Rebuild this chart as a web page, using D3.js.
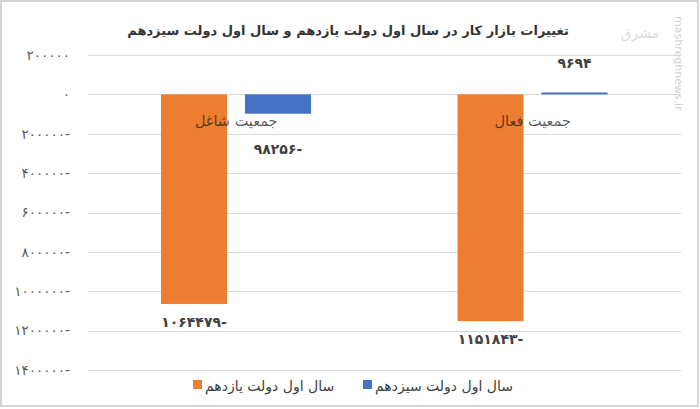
<!DOCTYPE html>
<html><head><meta charset="utf-8">
<script src="https://cdn.jsdelivr.net/npm/d3@7"></script>
<style>body{margin:0;background:#fff} svg{display:block}</style>
</head><body><svg id="c" width="700" height="409"></svg>
<script>
const title = "تغییرات بازار کار در سال اول دولت یازدهم و سال اول دولت سیزدهم";
const categories = ["جمعیت شاغل", "جمعیت فعال"];
const seriesNames = ["سال اول دولت یازدهم", "سال اول دولت سیزدهم"];
const series11 = [-1064479, -1151843];
const series13 = [-98256, 9694];
const yTicks = [200000, 0, -200000, -400000, -600000, -800000, -1000000, -1200000, -1400000];
const colors = ["#ED7D31", "#4472C4"];

const fa = n => {
  const d = "۰۱۲۳۴۵۶۷۸۹";
  const s = String(Math.abs(n)).replace(/[0-9]/g, c => d[+c]);
  return n < 0 ? s + "-" : s;
};
const FONT = "'DejaVu Sans', sans-serif";

const svg = d3.select("#c");
svg.append("rect").attr("x", 1).attr("y", 1).attr("width", 697).attr("height", 405)
  .attr("fill", "#fff").attr("stroke", "#d4d4d4").attr("stroke-width", 2);

const y = d3.scaleLinear().domain([200000, -1400000]).range([55, 370]);
const x0 = d3.scaleBand().domain(categories).range([88, 681]).paddingInner(0);
const x1 = d3.scaleBand().domain(seriesNames).range([73, 223]).paddingInner(0.214).paddingOuter(0);

// gridlines
svg.append("g").selectAll("line").data(yTicks).join("line")
  .attr("x1", 88).attr("x2", 681)
  .attr("y1", d => Math.round(y(d)) + 0.5).attr("y2", d => Math.round(y(d)) + 0.5)
  .attr("stroke", "#d9d9d9").attr("stroke-width", 1);

// axis
const ax = svg.append("g").attr("transform", "translate(88,0)")
  .call(d3.axisLeft(y).tickValues(yTicks).tickFormat(fa).tickSize(0).tickPadding(18));
ax.select(".domain").remove();
ax.selectAll("text").attr("font-family", FONT).attr("font-size", 13.5).attr("fill", "#595959");

// title
svg.append("text").attr("x", 348).attr("y", 31).attr("text-anchor", "middle")
  .attr("dominant-baseline", "middle")
  .attr("font-family", FONT).attr("font-weight", "bold").attr("font-size", 13)
  .attr("fill", "#333").text(title);

const data = [];
categories.forEach((c, i) => {
  data.push({cat: c, s: seriesNames[0], v: series11[i], col: colors[0], k: 0});
  data.push({cat: c, s: seriesNames[1], v: series13[i], col: colors[1], k: 1});
});

svg.append("g").selectAll("rect").data(data).join("rect")
  .attr("x", d => x0(d.cat) + x1(d.s))
  .attr("width", x1.bandwidth())
  .attr("y", d => Math.min(y(d.v), y(0)))
  .attr("height", d => Math.abs(y(d.v) - y(0)))
  .attr("fill", d => d.col);

// category labels
svg.append("g").selectAll("text").data(categories).join("text")
  .attr("x", d => x0(d) + x0.bandwidth() / 2)
  .attr("y", 122).attr("text-anchor", "middle").attr("dominant-baseline", "middle")
  .attr("font-family", FONT).attr("font-size", 14.5)
  .attr("fill", "#1a1a1a").attr("fill-opacity", 0.72).text(d => d);

// value labels
svg.append("g").selectAll("text").data(data).join("text")
  .attr("x", d => x0(d.cat) + x1(d.s) + x1.bandwidth() / 2)
  .attr("y", d => d.k === 0 ? y(d.v) + 19 : (d.v < 0 ? y(d.v) + 36 : y(d.v) - 28))
  .attr("text-anchor", "middle").attr("dominant-baseline", "middle")
  .attr("direction", "ltr")
  .attr("font-family", FONT).attr("font-size", 14).attr("font-weight", "bold")
  .attr("fill", "#404040").text(d => fa(d.v));

// legend
const legX = [193, 363];
const lg = svg.append("g").selectAll("g").data(seriesNames).join("g")
  .attr("transform", (d, i) => `translate(${legX[i]},380)`);
lg.append("rect").attr("width", 9).attr("height", 9).attr("fill", (d, i) => colors[i]);
lg.append("text").attr("x", 12).attr("y", 7).attr("dominant-baseline", "middle")
  .attr("font-family", FONT).attr("font-size", 14).attr("fill", "#404040").text(d => d);

// watermark
svg.append("text").attr("transform", "translate(675,16) rotate(90)")
  .attr("font-family", FONT).attr("font-size", 11).attr("fill", "#d2d2d2")
  .text("mashreghnews.ir");
svg.append("text").attr("x", 640).attr("y", 38).attr("text-anchor", "middle")
  .attr("font-family", FONT).attr("font-size", 14).attr("fill", "#dcdcdc").text("مشرق");
</script></body></html>
